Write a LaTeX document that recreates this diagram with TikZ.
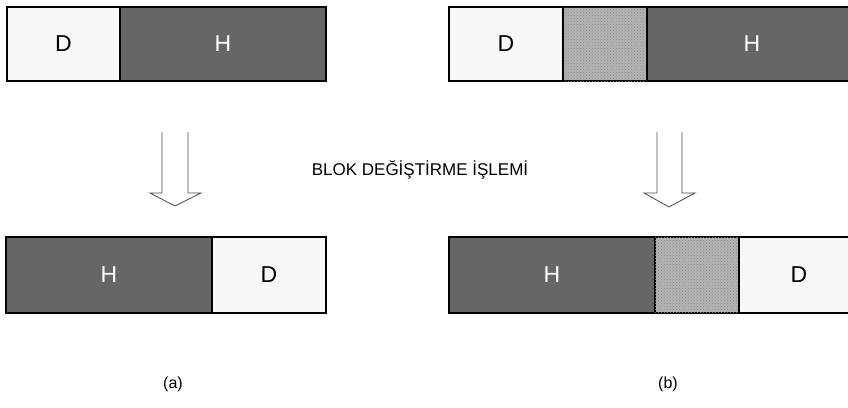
\documentclass[tikz,border=0pt]{standalone}
\usepackage{fontspec}
\setmainfont{Liberation Sans}
\usetikzlibrary{patterns}
\definecolor{lightcell}{HTML}{F8F8F8}
\definecolor{darkcell}{HTML}{666666}
\definecolor{dotcell}{HTML}{B4B4B4}
\definecolor{dotink}{HTML}{8C8C8C}
\definecolor{arrowline}{HTML}{4A4A4A}
\tikzset{
  cell/.style={draw=black, line width=1.3pt, inner sep=0pt, outer sep=0pt, anchor=north west},
  dcell/.style={cell, fill=lightcell, text=black, font=\fontsize{23}{25}\selectfont},
  hcell/.style={cell, fill=darkcell, text=white, font=\fontsize{23}{25}\selectfont},
  gapcell/.style={cell, fill=dotcell, postaction={pattern=crosshatch dots, pattern color=dotink}},
  hollowarrow/.style={draw=arrowline, line width=0.8pt, line join=miter},
  caption/.style={font=\fontsize{16}{18}\selectfont, inner sep=0pt},
  title/.style={font=\fontsize{17}{19}\selectfont, inner sep=0pt}
}
\begin{document}
\begin{tikzpicture}[x=1pt,y=-1pt]
\useasboundingbox (0,0) rectangle (848,407);
\clip (0,0) rectangle (848,407);

% (a) before: D then H
\node[dcell, minimum width=113pt, minimum height=74pt] (aD1) at (7,7) {D};
\node[hcell, minimum width=206pt, minimum height=74pt] (aH1) at (120,7) {H};

% (b) before: D, gap, H
\node[dcell, minimum width=114pt, minimum height=74pt] (bD1) at (449,7) {D};
\node[gapcell, minimum width=84pt, minimum height=74pt] (bG1) at (563,7) {};
\node[hcell, minimum width=210pt, minimum height=74pt] (bH1) at (647,7) {H};

% (a) after: H then D
\node[hcell, minimum width=206pt, minimum height=76pt] (aH2) at (6,237) {H};
\node[dcell, minimum width=114pt, minimum height=76pt] (aD2) at (212,237) {D};

% (b) after: H, gap, D
\node[hcell, minimum width=206pt, minimum height=76pt] (bH2) at (449,237) {H};
\node[gapcell, minimum width=84pt, minimum height=76pt] (bG2) at (655,237) {};
\node[dcell, minimum width=120pt, minimum height=76pt] (bD2) at (739,237) {D};

% hollow arrows (open at the top)
\coordinate (aTip) at (175,206);
\coordinate (bTip) at (669,207);
\draw[hollowarrow] (162,132) -- (162,193) -- (150,193) -- (aTip) -- (201,193) -- (188,193) -- (188,132);
\draw[hollowarrow] (657,132) -- (657,193) -- (644,193) -- (bTip) -- (695,193) -- (682,193) -- (682,132);

\node[title] (op) at (420,170) {BLOK DEĞİŞTİRME İŞLEMİ};
\node[caption] (capa) at (173,384) {(a)};
\node[caption] (capb) at (668,384) {(b)};
\end{tikzpicture}
\end{document}
